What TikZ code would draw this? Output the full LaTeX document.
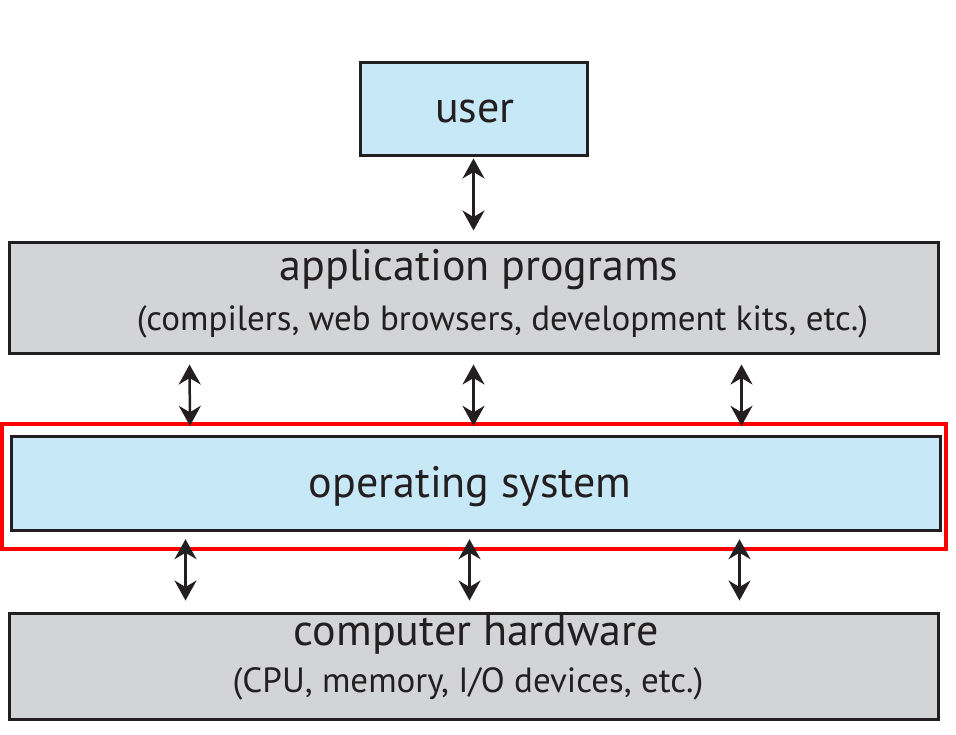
\documentclass[tikz,border=0pt]{standalone}
\usepackage{fontspec}
\setmainfont{PT Sans}
\usetikzlibrary{arrows.meta}

\definecolor{userblue}{RGB}{199,232,247}
\definecolor{layergray}{RGB}{211,212,214}
\definecolor{edgeblack}{RGB}{35,31,32}
\definecolor{markred}{RGB}{255,0,0}

\tikzset{
        layer/.style={draw=edgeblack, line width=1.5pt, inner sep=0pt},
        bluelayer/.style={layer, fill=userblue},
        graylayer/.style={layer, fill=layergray},
        title/.style={font=\fontsize{22}{26}\selectfont, text=edgeblack, inner sep=0pt, anchor=base},
        subtitle/.style={font=\fontsize{17.5}{21}\selectfont, text=edgeblack, inner sep=0pt, anchor=base},
        updown/.style={{Stealth[length=10pt,width=11pt]}-{Stealth[length=10pt,width=11pt]}, line width=1.25pt, draw=edgeblack},
}

\begin{document}
\begin{tikzpicture}[x=0.5pt, y=-0.5pt]
        \useasboundingbox (0,0) rectangle (956,734);

        \node[bluelayer, minimum width=113.5pt, minimum height=46.5pt] (user) at (473.5, 108.5) {};
        \node[title] (usertext) at (475, 122) {user};

        \node[graylayer, minimum width=464.5pt, minimum height=55.5pt] (app) at (473.5, 297.5) {};
        \node[title] (apptitle) at (479, 280) {application programs};
        \node[subtitle] (appsub) at (502.5, 330) {(compilers, web browsers, development kits, etc.)};

        \node[draw=markred, line width=2.2pt, minimum width=472pt, minimum height=62.5pt, inner sep=0pt] (osframe) at (474, 486.5) {};
        \node[bluelayer, minimum width=464.5pt, minimum height=47pt] (os) at (475.5, 483) {};
        \node[title] (ostext) at (470, 497) {operating system};

        \node[graylayer, minimum width=464.5pt, minimum height=53pt] (hw) at (473.5, 666) {};
        \node[title] (hwtitle) at (476.5, 645) {computer hardware};
        \node[subtitle] (hwsub) at (468, 692) {(CPU, memory, I/O devices, etc.)};

        \draw[updown] ([yshift=-1pt]user.south) -- ([yshift=5pt]app.north);

        \draw[updown] ([xshift=-142pt,yshift=-5pt]app.south) -- ([xshift=-142pt,yshift=-2pt]osframe.north);
        \draw[updown] ([yshift=-5pt]app.south) -- ([yshift=-2pt]app.south |- osframe.north);
        \draw[updown] ([xshift=134pt,yshift=-5pt]app.south) -- ([xshift=134pt,yshift=-2pt]app.south |- osframe.north);

        \draw[updown] ([xshift=-144pt,yshift=6pt]hw.north |- osframe.south) -- ([xshift=-144pt,yshift=5.5pt]hw.north);
        \draw[updown] ([xshift=-2pt,yshift=6pt]hw.north |- osframe.south) -- ([xshift=-2pt,yshift=5.5pt]hw.north);
        \draw[updown] ([xshift=133pt,yshift=6pt]hw.north |- osframe.south) -- ([xshift=133pt,yshift=5.5pt]hw.north);
    \end{tikzpicture}
\end{document}
